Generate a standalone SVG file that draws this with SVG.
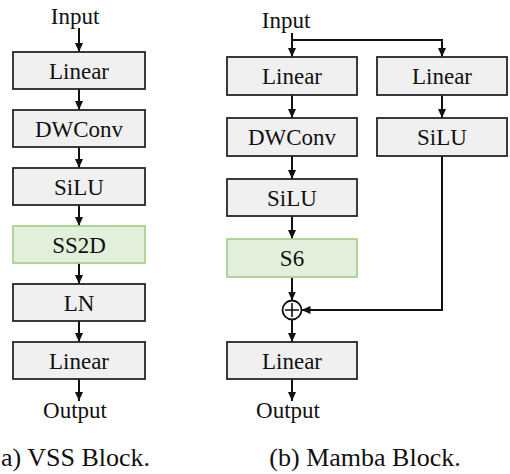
<svg xmlns="http://www.w3.org/2000/svg" width="510" height="474" viewBox="0 0 510 474">
<style>
.box{fill:#f0f0f0;stroke:#262626;stroke-width:1.8}
.green{fill:#e2efda;stroke:#a9d08e;stroke-width:1.8}
.t{font-family:"Liberation Serif","Times New Roman",serif;font-size:23px;fill:#111;text-anchor:middle}
.cap{font-family:"Liberation Serif","Times New Roman",serif;font-size:26px;fill:#111;text-anchor:middle}
.c{fill:none;stroke:#111;stroke-width:2}
</style>
<defs>
<marker id="ah" markerWidth="10" markerHeight="10" refX="9" refY="5" orient="auto" markerUnits="userSpaceOnUse">
<path d="M0,1 L9,5 L0,9 Z" fill="#111"/>
</marker>
</defs>
<rect width="510" height="474" fill="#fff"/>

<g id="connectors">
<line class="c" x1="79" y1="28" x2="79" y2="52" marker-end="url(#ah)"/>
<line class="c" x1="79" y1="89" x2="79" y2="110" marker-end="url(#ah)"/>
<line class="c" x1="79" y1="147" x2="79" y2="168" marker-end="url(#ah)"/>
<line class="c" x1="79" y1="205" x2="79" y2="226" marker-end="url(#ah)"/>
<line class="c" x1="79" y1="263" x2="79" y2="284" marker-end="url(#ah)"/>
<line class="c" x1="79" y1="321" x2="79" y2="342" marker-end="url(#ah)"/>
<line class="c" x1="79" y1="379" x2="79" y2="401" marker-end="url(#ah)"/>

<line class="c" x1="292" y1="33" x2="292" y2="57" marker-end="url(#ah)"/>
<polyline class="c" points="292,40 442,40 442,57" marker-end="url(#ah)"/>
<line class="c" x1="292" y1="95" x2="292" y2="118" marker-end="url(#ah)"/>
<line class="c" x1="292" y1="156" x2="292" y2="179" marker-end="url(#ah)"/>
<line class="c" x1="292" y1="216" x2="292" y2="239" marker-end="url(#ah)"/>
<line class="c" x1="292" y1="277" x2="292" y2="300.5" marker-end="url(#ah)"/>
<line class="c" x1="292" y1="319.5" x2="292" y2="342" marker-end="url(#ah)"/>
<line class="c" x1="292" y1="379" x2="292" y2="401" marker-end="url(#ah)"/>
<line class="c" x1="442" y1="95" x2="442" y2="118" marker-end="url(#ah)"/>
<polyline class="c" points="442,156 442,310 301.5,310" marker-end="url(#ah)"/>
</g>

<g id="vss-input"><text class="t" x="75" y="24">Input</text></g>
<g id="vss-linear1"><rect class="box" x="13" y="52" width="132" height="37"/><text class="t" x="79" y="78.5">Linear</text></g>
<g id="vss-dwconv"><rect class="box" x="13" y="110" width="132" height="37"/><text class="t" x="79" y="136.5">DWConv</text></g>
<g id="vss-silu"><rect class="box" x="13" y="168" width="132" height="37"/><text class="t" x="79" y="194.5">SiLU</text></g>
<g id="vss-ss2d"><rect class="green" x="13" y="226" width="132" height="37"/><text class="t" x="79" y="252.5">SS2D</text></g>
<g id="vss-ln"><rect class="box" x="13" y="284" width="132" height="37"/><text class="t" x="79" y="310.5">LN</text></g>
<g id="vss-linear2"><rect class="box" x="13" y="342" width="132" height="37"/><text class="t" x="79" y="368.5">Linear</text></g>
<g id="vss-output"><text class="t" x="75" y="418">Output</text></g>
<g id="vss-caption"><text class="cap" x="1" y="466" style="text-anchor:start">a) VSS Block.</text></g>

<g id="mamba-input"><text class="t" x="286" y="28">Input</text></g>
<g id="mamba-linear1"><rect class="box" x="227" y="57" width="130" height="38"/><text class="t" x="292" y="84">Linear</text></g>
<g id="mamba-dwconv"><rect class="box" x="227" y="118" width="130" height="38"/><text class="t" x="292" y="145">DWConv</text></g>
<g id="mamba-silu"><rect class="box" x="227" y="179" width="130" height="37"/><text class="t" x="292" y="205.5">SiLU</text></g>
<g id="mamba-s6"><rect class="green" x="227" y="239" width="130" height="38"/><text class="t" x="292" y="266">S6</text></g>
<g id="mamba-linear-r"><rect class="box" x="377" y="57" width="130" height="38"/><text class="t" x="442" y="84">Linear</text></g>
<g id="mamba-silu-r"><rect class="box" x="377" y="118" width="130" height="38"/><text class="t" x="442" y="145">SiLU</text></g>
<g id="mamba-add"><circle cx="292" cy="310" r="9.5" fill="#fff" stroke="#111" stroke-width="1.8"/><path d="M292,303 V317 M285,310 H299" stroke="#111" stroke-width="1.6"/></g>
<g id="mamba-linear2"><rect class="box" x="227" y="342" width="130" height="37"/><text class="t" x="292" y="368.5">Linear</text></g>
<g id="mamba-output"><text class="t" x="288" y="418">Output</text></g>
<g id="mamba-caption"><text class="cap" x="365" y="466">(b) Mamba Block.</text></g>
</svg>
